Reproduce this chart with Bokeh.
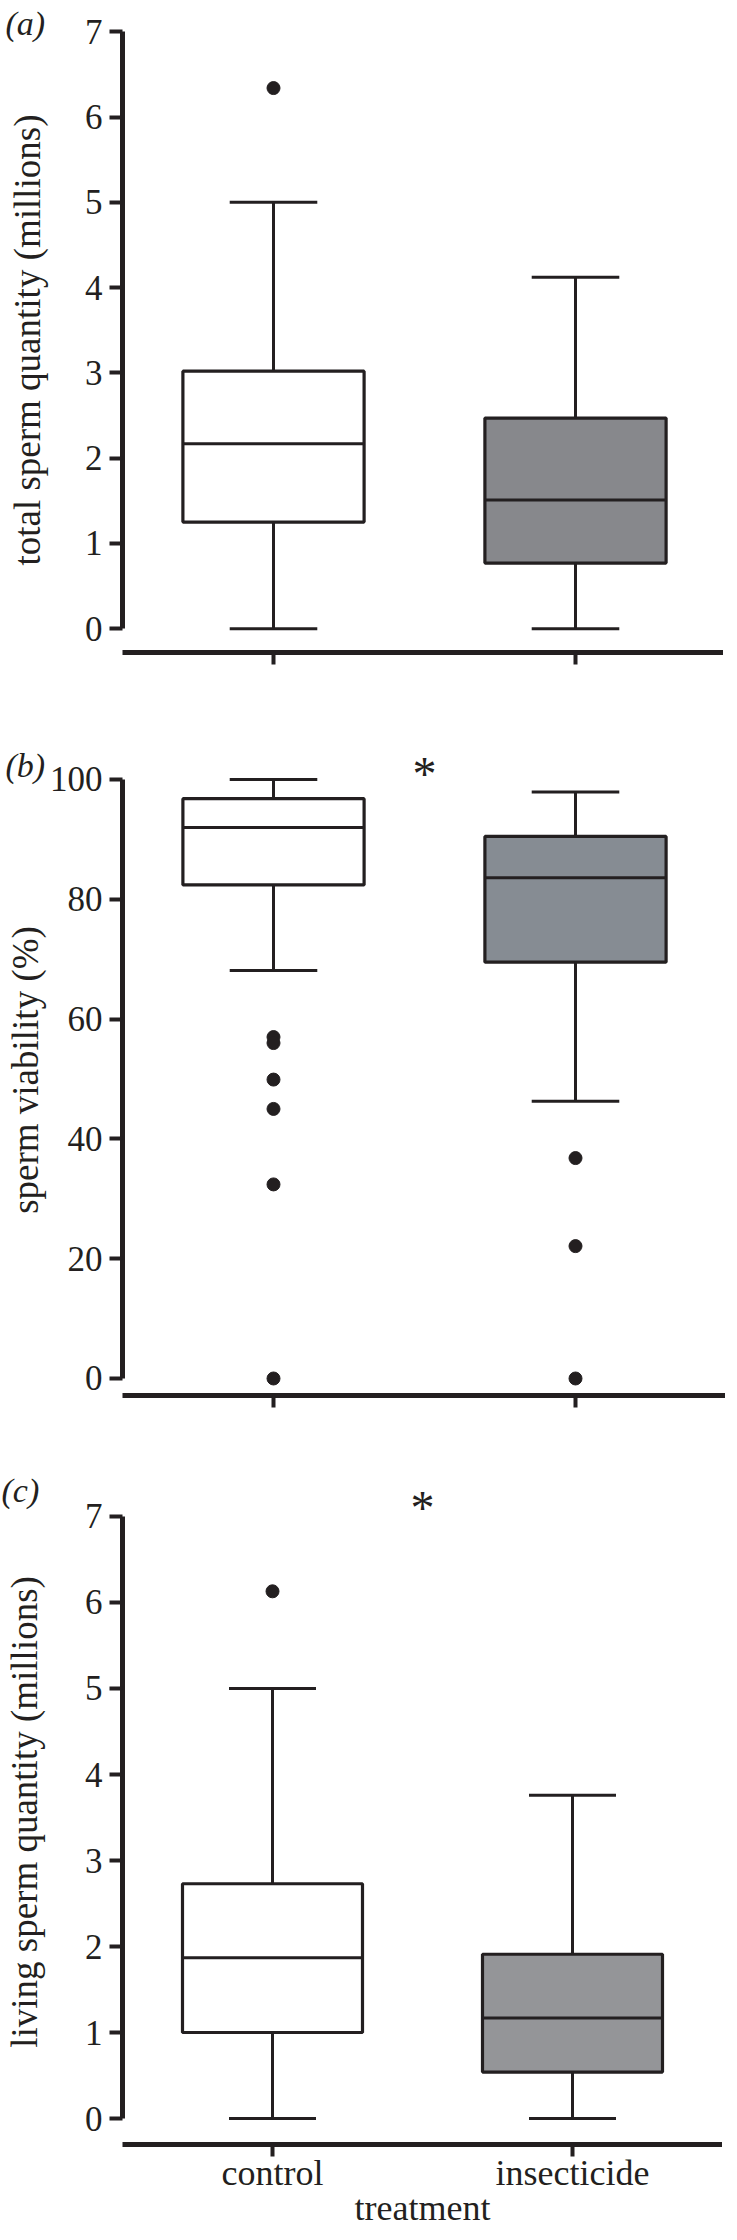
from bokeh.plotting import figure
from bokeh.models import Range1d, FixedTicker
from bokeh.layouts import column
from bokeh.embed import file_html
from bokeh.resources import INLINE
from bokeh.core.properties import value

# ---------------- data ----------------
categories = ["control", "insecticide"]
x_title = "treatment"

# (a) total sperm quantity (millions)
a_low = [0.0, 0.0]
a_q1 = [1.25, 0.77]
a_med = [2.17, 1.51]
a_q3 = [3.02, 2.47]
a_high = [5.0, 4.12]
a_out_cat = ["control"]
a_out_val = [6.34]

# (b) sperm viability (%)
b_low = [68.1, 46.3]
b_q1 = [82.4, 69.5]
b_med = [92.0, 83.6]
b_q3 = [96.8, 90.5]
b_high = [100.0, 97.9]
b_out_cat = ["control", "control", "control", "control", "control", "control",
             "insecticide", "insecticide", "insecticide"]
b_out_val = [57.0, 56.0, 49.9, 45.0, 32.4, 0.0, 36.8, 22.1, 0.0]

# (c) living sperm quantity (millions)
c_low = [0.0, 0.0]
c_q1 = [1.0, 0.54]
c_med = [1.87, 1.17]
c_q3 = [2.73, 1.91]
c_high = [5.0, 3.76]
c_out_cat = ["control"]
c_out_val = [6.13]

y_titles = ["total sperm quantity (millions)", "sperm viability (%)",
            "living sperm quantity (millions)"]
panel_tags = ["(a)", "(b)", "(c)"]
ticks_a = [0, 1, 2, 3, 4, 5, 6, 7]
ticks_b = [0, 20, 40, 60, 80, 100]
ticks_c = [0, 1, 2, 3, 4, 5, 6, 7]
star_b = 101.0
star_c = 7.10

# ---------------- style ----------------
INK = "#231f20"
FONT = "Liberation Serif"
fills = [["#ffffff", "#87888c"], ["#ffffff", "#868c93"], ["#ffffff", "#949598"]]


def make_panel(low, q1, med, q3, high, out_cat, out_val, ytitle, yticks, tag,
               fill, geom, star_y=None, show_xlabels=False):
    xs = [categories.index(c) + 1 for c in categories]
    p = figure(frame_width=geom["fw"], frame_height=geom["fh"],
               x_range=Range1d(0.5, 2.5),
               y_range=Range1d(geom["y0"], geom["y1"]),
               output_backend="svg", toolbar_location=None,
               min_border_left=geom["left"], min_border_right=0,
               min_border_top=geom["top"], min_border_bottom=geom["bottom"],
               background_fill_color="white", border_fill_color="white",
               title=tag, title_location="above")
    p.outline_line_color = None
    p.xgrid.grid_line_color = None
    p.ygrid.grid_line_color = None

    # panel tag as title
    p.title.text_font = FONT
    p.title.text_font_size = "34px"
    p.title.text_font_style = "italic"
    p.title.text_color = INK
    p.title.align = "left"
    p.title.offset = -geom["left"]
    p.title.standoff = geom["tstand"]

    half = 0.3
    cap = 0.145
    # whiskers
    p.segment(x0=xs, x1=xs, y0=q3, y1=high, line_color=INK, line_width=3)
    p.segment(x0=xs, x1=xs, y0=q1, y1=low, line_color=INK, line_width=3)
    p.segment(x0=[x - cap for x in xs], x1=[x + cap for x in xs], y0=high, y1=high,
              line_color=INK, line_width=3)
    p.segment(x0=[x - cap for x in xs], x1=[x + cap for x in xs], y0=low, y1=low,
              line_color=INK, line_width=3)
    # boxes
    p.vbar(x=xs, width=2 * half, bottom=q1, top=q3, fill_color=fill,
           line_color=INK, line_width=3.2)
    p.segment(x0=[x - half for x in xs], x1=[x + half for x in xs], y0=med, y1=med,
              line_color=INK, line_width=3)
    # outliers
    ox = [categories.index(c) + 1 for c in out_cat]
    p.scatter(x=ox, y=out_val, size=13, fill_color=INK, line_color=INK)

    if star_y is not None:
        p.text(x=[1.5], y=[star_y], text=["*"], text_align="center",
               text_baseline="alphabetic", text_font=value(FONT),
               text_font_size="48px", text_color=INK)

    # y axis
    ya = p.yaxis[0]
    ya.ticker = FixedTicker(ticks=yticks)
    ya.bounds = (yticks[0], yticks[-1])
    ya.axis_line_width = 5
    ya.axis_line_color = INK
    ya.major_tick_line_width = 4
    ya.major_tick_line_color = INK
    ya.major_tick_out = 13
    ya.major_tick_in = 0
    ya.minor_tick_line_color = None
    ya.major_label_text_font = FONT
    ya.major_label_text_font_size = "35px"
    ya.major_label_text_color = INK
    ya.major_label_standoff = 7
    ya.axis_label = ytitle
    ya.axis_label_text_font = FONT
    ya.axis_label_text_font_size = "37px"
    ya.axis_label_text_font_style = "normal"
    ya.axis_label_text_color = INK
    ya.axis_label_standoff = geom["ystand"]

    # x axis
    xa = p.xaxis[0]
    xa.ticker = FixedTicker(ticks=xs)
    xa.axis_line_width = 5
    xa.axis_line_color = INK
    xa.major_tick_line_width = 4
    xa.major_tick_line_color = INK
    xa.major_tick_out = 12
    xa.major_tick_in = 0
    xa.minor_tick_line_color = None
    xa.major_label_text_font = FONT
    xa.major_label_text_color = INK
    if show_xlabels:
        xa.major_label_overrides = {x: c for x, c in zip(xs, categories)}
        xa.major_label_text_font_size = "36px"
        xa.major_label_standoff = -4
        xa.axis_label = x_title
        xa.axis_label_text_font = FONT
        xa.axis_label_text_font_size = "36px"
        xa.axis_label_text_font_style = "normal"
        xa.axis_label_text_color = INK
        xa.axis_label_standoff = -8
    else:
        xa.major_label_overrides = {x: "" for x in xs}
        xa.major_label_text_font_size = "10px"
    return p


geom_a = dict(fw=604, fh=625, left=117, top=27, bottom=60, y0=-0.279, y1=7.05,
              ystand=34, tstand=-28)
geom_b = dict(fw=604, fh=651, left=117, top=32, bottom=54, y0=-2.84, y1=105.84,
              ystand=1, tstand=-78)
geom_c = dict(fw=600, fh=665, left=121, top=30, bottom=80, y0=-0.302, y1=7.43,
              ystand=37, tstand=-58)

pa = make_panel(a_low, a_q1, a_med, a_q3, a_high, a_out_cat, a_out_val,
                y_titles[0], ticks_a, panel_tags[0], fills[0], geom_a)
pb = make_panel(b_low, b_q1, b_med, b_q3, b_high, b_out_cat, b_out_val,
                y_titles[1], ticks_b, panel_tags[1], fills[1], geom_b, star_y=star_b)
pc = make_panel(c_low, c_q1, c_med, c_q3, c_high, c_out_cat, c_out_val,
                y_titles[2], ticks_c, panel_tags[2], fills[2], geom_c, star_y=star_c,
                show_xlabels=True)

layout = column(pa, pb, pc, spacing=0)
open("out.html", "w").write(file_html(layout, INLINE))
